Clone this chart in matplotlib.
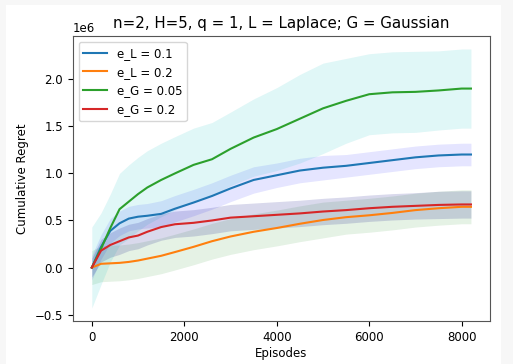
import numpy as np
import matplotlib
matplotlib.use('Agg')
import matplotlib.pyplot as plt
from matplotlib.patches import Rectangle

# Episodios onde as curvas foram lidas
episodes = [0, 200, 400, 600, 800, 1000, 1200, 1500, 1800, 2200, 2600, 3000,
            3500, 4000, 4500, 5000, 5500, 6000, 6500, 7000, 7500, 8000, 8200]

# Regret medio (x 1e6) e desvio padrao de cada configuracao
mean_L01 = [0.0, 0.22, 0.39, 0.47, 0.52, 0.54, 0.55, 0.57, 0.625, 0.69, 0.76, 0.84,
            0.93, 0.98, 1.03, 1.06, 1.08, 1.11, 1.14, 1.17, 1.19, 1.20, 1.20]
std_L01 = [0.13, 0.13, 0.13, 0.13, 0.13, 0.13, 0.13, 0.14, 0.14, 0.14, 0.14, 0.14,
           0.14, 0.13, 0.13, 0.13, 0.12, 0.12, 0.12, 0.12, 0.12, 0.12, 0.12]

mean_L02 = [0.0, 0.04, 0.045, 0.05, 0.06, 0.075, 0.095, 0.125, 0.165, 0.22, 0.28, 0.33,
            0.38, 0.42, 0.465, 0.505, 0.535, 0.555, 0.58, 0.61, 0.63, 0.645, 0.645]
std_L02 = [0.18, 0.19, 0.19, 0.19, 0.19, 0.19, 0.19, 0.19, 0.19, 0.19, 0.19, 0.19,
           0.19, 0.19, 0.19, 0.19, 0.18, 0.18, 0.18, 0.18, 0.18, 0.18, 0.18]

mean_G005 = [0.0, 0.2, 0.42, 0.62, 0.70, 0.78, 0.85, 0.93, 1.0, 1.09, 1.15, 1.26,
             1.38, 1.47, 1.58, 1.69, 1.77, 1.84, 1.86, 1.865, 1.88, 1.90, 1.90]
std_G005 = [0.43, 0.38, 0.36, 0.38, 0.39, 0.39, 0.39, 0.39, 0.39, 0.39, 0.39, 0.39,
            0.41, 0.44, 0.47, 0.48, 0.45, 0.43, 0.43, 0.43, 0.42, 0.42, 0.42]

mean_G02 = [0.0, 0.18, 0.24, 0.28, 0.32, 0.34, 0.38, 0.43, 0.46, 0.475, 0.50, 0.53,
            0.545, 0.56, 0.575, 0.595, 0.61, 0.63, 0.645, 0.655, 0.665, 0.67, 0.67]
std_G02 = [0.10, 0.12, 0.13, 0.14, 0.14, 0.14, 0.14, 0.14, 0.14, 0.14, 0.14, 0.14,
           0.14, 0.14, 0.14, 0.14, 0.14, 0.14, 0.14, 0.14, 0.145, 0.145, 0.145]

labels = ['e_L = 0.1', 'e_L = 0.2', 'e_G = 0.05', 'e_G = 0.2']
line_colors = ['tab:blue', 'tab:orange', 'tab:green', 'tab:red']
band_colors = [(0, 0, 1, 0.1), (0, 0.5, 0, 0.1), (0, 0.75, 0.75, 0.12), (0, 0, 0.5, 0.15)]

ep = np.array(episodes)
series = [(mean_L01, std_L01), (mean_L02, std_L02), (mean_G005, std_G005), (mean_G02, std_G02)]

fig = plt.figure(figsize=(5.13, 3.64), dpi=100)
ax = fig.add_axes([0.142, 0.118, 0.813, 0.783])

for (m, s), lab, lc, bc in zip(series, labels, line_colors, band_colors):
    m = np.array(m) * 1e6
    s = np.array(s) * 1e6
    ax.plot(ep, m, color=lc, lw=1.5, label=lab)
    ax.fill_between(ep, m - s, m + s, color=bc, lw=0)

ax.set_title('n=2, H=5, q = 1, L = Laplace; G = Gaussian', fontsize=10.8)
ax.set_xlabel('Episodes', fontsize=8.5, labelpad=2)
ax.set_ylabel('Cumulative Regret', fontsize=8.5)
ax.tick_params(labelsize=8.5)
ax.yaxis.get_offset_text().set_fontsize(8.5)
ax.set_xticks([0, 2000, 4000, 6000, 8000])
ax.legend(loc='upper left', fontsize=8.5)
for sp in ax.spines.values():
    sp.set_color('#555555')

# moldura cinza da captura de tela
for r in [(0, 0, 6 / 513, 1), (0, 1 - 5 / 364, 1, 5 / 364), (501 / 513, 0, 12 / 513, 1)]:
    fig.patches.append(Rectangle(r[:2], r[2], r[3], transform=fig.transFigure,
                                 facecolor='#f7f7f7', edgecolor='none', zorder=-1))

fig.savefig('out.png', dpi=100)
